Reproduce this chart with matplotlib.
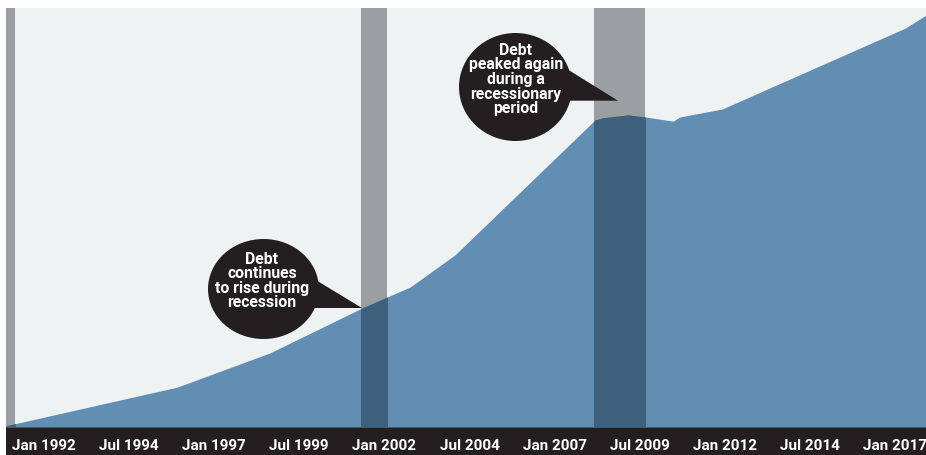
import matplotlib
matplotlib.use("Agg")
import matplotlib.pyplot as plt
from matplotlib.patches import Rectangle, Ellipse, Polygon
from matplotlib.transforms import ScaledTranslation

plt.rcParams["font.family"] = ["Roboto", "DejaVu Sans"]

BG, AREA, BAR, DARK, INK = "#EEF2F3", "#628EB4", "#9B9FA2", "#3F607D", "#231F20"

# debt series (index), decimal years
dates = [1990.75, 1995.77, 1998.5, 2001.2, 2001.93, 2002.61, 2003.93, 2008.04,
         2008.27, 2009.0, 2009.5, 2010.33, 2010.53, 2011.77, 2017.14, 2017.75]
debt = [0.3, 9.5, 17.7, 28.4, 31.0, 33.4, 41.1, 73.3,
        73.8, 74.5, 74.0, 73.0, 74.0, 75.9, 95.2, 98.3]

# recession periods (start, end)
recessions = [(1990.5, 1991.0), (2001.17, 2001.92), (2008.0, 2009.5)]

tick_pos = [1992.0, 1994.5, 1997.0, 1999.5, 2002.0, 2004.5, 2007.0, 2009.5,
            2012.0, 2014.5, 2017.0]
tick_lbl = ["Jan 1992", "Jul 1994", "Jan 1997", "Jul 1999", "Jan 2002", "Jul 2004",
            "Jan 2007", "Jul 2009", "Jan 2012", "Jul 2014", "Jan 2017"]

callouts = [
    ("Debt\ncontinues\nto rise during\nrecession", (263.5, 289), (111, 100),
     [(305, 273.5), (362, 308), (305, 308)], (262, 281)),
    ("Debt\npeaked again\nduring a\nrecessionary\nperiod", (515.5, 87), (113, 108),
     [(560, 64.7), (618, 100.7), (560, 100.7)], (516, 79.5)),
]

W, H = 926, 455
fig = plt.figure(figsize=(W / 100, H / 100), dpi=100)
fig.patch.set_facecolor("white")

# black band holding the date labels
fig.add_artist(Rectangle((6 / W, 0), 920 / W, 28 / H, transform=fig.transFigure,
                         facecolor=INK, edgecolor="none", zorder=-1))

ax = fig.add_axes([6 / W, 28 / H, 920 / W, 419 / H])
ax.set_facecolor(BG)
ax.set_xlim(1990.75, 2017.75)
ax.set_ylim(0, 100)
for s in ax.spines.values():
    s.set_visible(False)
ax.set_yticks([])

for a, b in recessions:
    ax.axvspan(a, b, color=BAR, lw=0, zorder=1)

ax.fill_between(dates, debt, color=AREA, lw=0, zorder=2)
for a, b in recessions:
    dark = ax.fill_between(dates, debt, color=DARK, lw=0, zorder=3)
    dark.set_clip_path(Rectangle((a, 0), b - a, 100, transform=ax.transData))

ax.set_xticks(tick_pos)
ax.set_xticklabels(tick_lbl, color="white", fontsize=11, fontweight="bold")
ax.tick_params(axis="x", length=0, pad=8.5)
shift = ScaledTranslation(-5 / 100, 0, fig.dpi_scale_trans)
for lab in ax.get_xticklabels():
    lab.set_transform(lab.get_transform() + shift)

# callout bubbles, in pixel space
ov = fig.add_axes([0, 0, 1, 1])
ov.set_xlim(0, W)
ov.set_ylim(H, 0)
ov.axis("off")
ov.patch.set_alpha(0)
for text, c, (ew, eh), tail, tc in callouts:
    ov.add_patch(Ellipse(c, ew, eh, facecolor=INK, edgecolor="none"))
    ov.add_patch(Polygon(tail, closed=True, facecolor=INK, edgecolor="none"))
    ov.text(tc[0], tc[1], text, ha="center", va="center", color="white",
            fontsize=11.3, fontweight="bold", linespacing=0.96)

fig.savefig("out.png", dpi=100)
